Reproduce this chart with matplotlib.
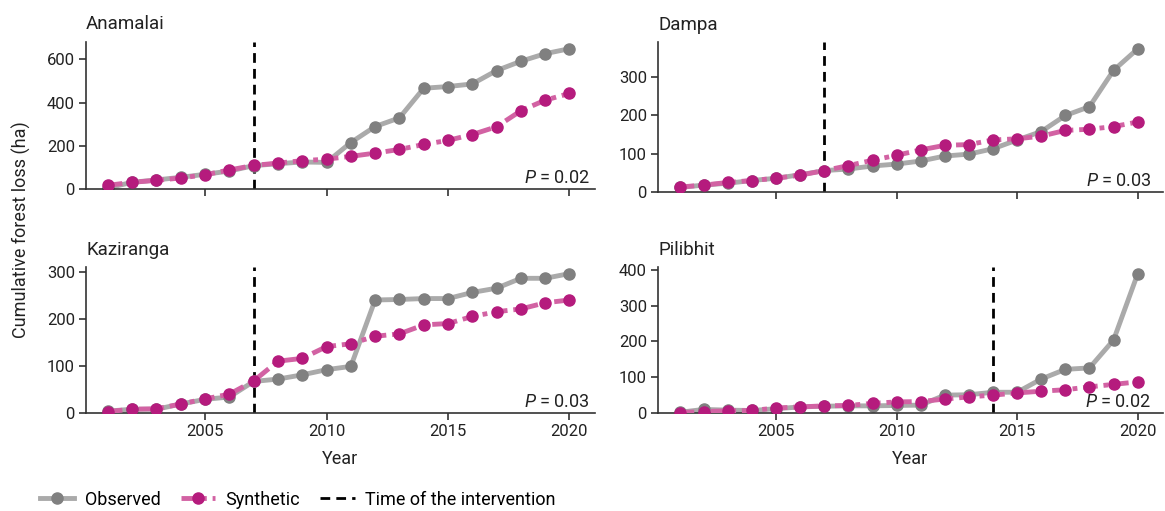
import numpy as np
import matplotlib
matplotlib.use('Agg')
import matplotlib.pyplot as plt
from matplotlib.lines import Line2D

plt.rcParams['font.family'] = ['Roboto', 'DejaVu Sans']
plt.rcParams['mathtext.fontset'] = 'custom'
plt.rcParams['mathtext.it'] = 'Roboto:italic'
plt.rcParams['mathtext.rm'] = 'Roboto'

# ---------------------------------------------------------------------------
# Data
# ---------------------------------------------------------------------------
years = np.arange(2001, 2021)

anamalai_obs = [5, 31, 42, 54, 68, 83, 108, 117, 125, 123,
                215, 289, 329, 466, 474, 486, 548, 591, 626, 649]
anamalai_syn = [17, 31, 40, 51, 66, 88, 109, 120, 131, 138,
                151, 166, 183, 206, 225, 252, 288, 362, 411, 442]

dampa_obs = [12, 18, 23, 30, 36, 45, 56, 60, 68, 73,
             81, 94, 99, 113, 136, 158, 200, 223, 318, 374]
dampa_syn = [13, 18, 25, 30, 36, 44, 56, 69, 83, 96,
             110, 122, 124, 136, 139, 146, 161, 164, 171, 183]

kaziranga_obs = [4, 8, 8, 19, 29, 34, 67, 72, 81, 92,
                 99, 240, 241, 243, 243, 256, 265, 286, 286, 296]
kaziranga_syn = [3, 8, 9, 19, 30, 40, 68, 110, 116, 141,
                 147, 163, 168, 187, 190, 205, 215, 221, 234, 240]

pilibhit_obs = [2, 10, 8, 7, 12, 17, 19, 20, 20, 21,
                22, 50, 51, 58, 58, 95, 122, 126, 204, 389]
pilibhit_syn = [1, 4, 6, 7, 14, 17, 20, 21, 27, 31,
                32, 39, 45, 50, 56, 61, 65, 73, 80, 87]

sites = ['Anamalai', 'Dampa', 'Kaziranga', 'Pilibhit']
observed = [anamalai_obs, dampa_obs, kaziranga_obs, pilibhit_obs]
synthetic = [anamalai_syn, dampa_syn, kaziranga_syn, pilibhit_syn]
intervention = [2007, 2007, 2007, 2014]
p_values = ['0.02', '0.03', '0.03', '0.02']
y_ticks = [[0, 200, 400, 600], [0, 100, 200, 300],
           [0, 100, 200, 300], [0, 100, 200, 300, 400]]
y_tops = [680, 392, 310, 408]

# ---------------------------------------------------------------------------
# Styles
# ---------------------------------------------------------------------------
OBS_LINE = '#aaaaaa'
OBS_MARK = '#808080'
SYN_LINE = '#d262a3'
SYN_MARK = '#b51b7d'
SYN_LS = (0, (3, 1.2, 1, 1.2))
VL_LS = (0, (3.5, 2.2))
TXT = '#222222'

W, H = 1165, 511
fig = plt.figure(figsize=(W / 100, H / 100), dpi=100)

# axes boxes in pixels: (left, top, right, bottom)
boxes = [(86, 42, 595, 189), (658, 42, 1163, 192),
         (86, 267, 595, 413), (658, 267, 1163, 413)]
p_x = [0.99, 0.977, 0.99, 0.977]

for i, (l, t, r, b) in enumerate(boxes):
    ax = fig.add_axes([l / W, 1 - b / H, (r - l) / W, (b - t) / H])

    ax.axvline(intervention[i], color='black', ls=VL_LS, lw=2.0, zorder=1.5)
    ax.plot(years, observed[i], color=OBS_LINE, lw=3.5, marker='o', ms=8,
            mfc=OBS_MARK, mec=OBS_MARK, zorder=2)
    ax.plot(years, synthetic[i], color=SYN_LINE, lw=3.5, ls=SYN_LS,
            marker='o', ms=8, mfc=SYN_MARK, mec=SYN_MARK, zorder=3)

    ax.set_xlim(2000.1, 2021.05)
    ax.set_ylim(0, y_tops[i])
    ax.set_xticks([2005, 2010, 2015, 2020])
    ax.set_yticks(y_ticks[i])
    if i < 2:
        ax.set_xticklabels([])
    else:
        ax.set_xlabel('Year', fontsize=13, labelpad=8, color=TXT)

    for s in ['top', 'right']:
        ax.spines[s].set_visible(False)
    for s in ['left', 'bottom']:
        ax.spines[s].set_linewidth(1.2)
        ax.spines[s].set_color('#333333')
    ax.tick_params(length=5, width=1.2, color='#333333', labelsize=12,
                   labelcolor=TXT, pad=3)

    ax.set_title(sites[i], loc='left', fontsize=13.5, pad=9, color=TXT)
    ax.text(p_x[i], 0.075, r'$P$ = ' + p_values[i], transform=ax.transAxes,
            ha='right', va='center', fontsize=13, color=TXT, zorder=5)

fig.text(0.018, 0.55, 'Cumulative forest loss (ha)', rotation=90,
         ha='center', va='center', fontsize=13, color=TXT)

handles = [
    Line2D([], [], color=OBS_LINE, lw=3.5, marker='o', ms=8,
           mfc=OBS_MARK, mec=OBS_MARK),
    Line2D([], [], color=SYN_LINE, lw=3.5, ls=SYN_LS, marker='o', ms=8,
           mfc=SYN_MARK, mec=SYN_MARK),
    Line2D([], [], color='black', lw=2.0, ls=VL_LS),
]
fig.legend(handles, ['Observed', 'Synthetic', 'Time of the intervention'],
           loc='center left', bbox_to_anchor=(0.028, 0.022), ncol=3,
           frameon=False, fontsize=13, handlelength=1.9, columnspacing=1.1,
           handletextpad=0.6, borderaxespad=0)

fig.savefig('out.png', dpi=100)
